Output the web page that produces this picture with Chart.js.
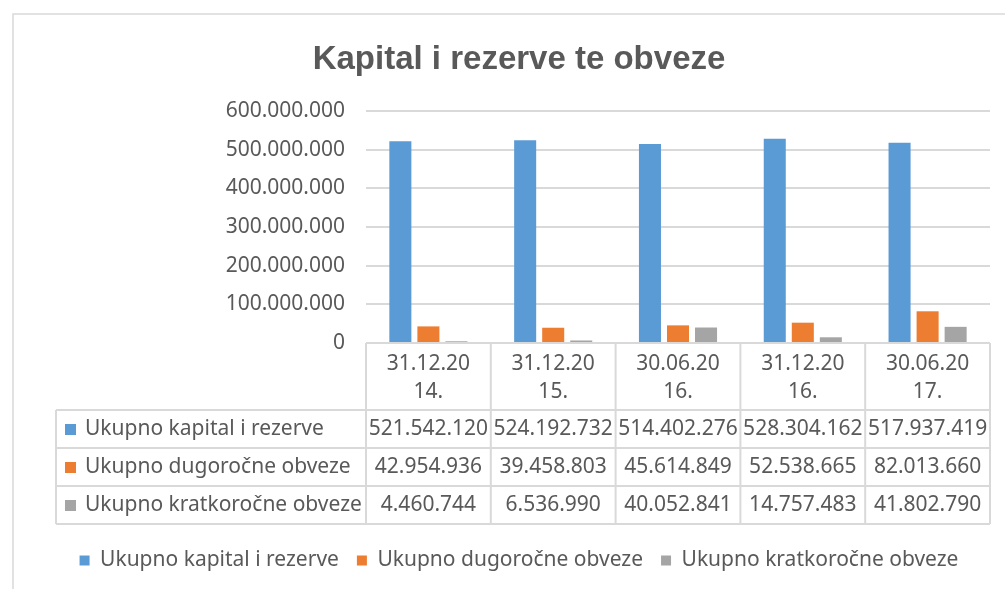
<!DOCTYPE html>
<html>
<head>
<meta charset="utf-8">
<title>Kapital i rezerve te obveze</title>
<script src="https://cdn.jsdelivr.net/npm/chart.js@4.4.1/dist/chart.umd.min.js"></script>
<style>
  html, body { margin: 0; padding: 0; background: #fff; }
  canvas { display: block; }
</style>
</head>
<body>
<canvas id="chart" width="1005" height="589"></canvas>
<script>
// Reporting dates (categories)
const categories = ['31.12.2014.', '31.12.2015.', '30.06.2016.', '31.12.2016.', '30.06.2017.'];

// Series values
const kapitalRezerve = [521542120, 524192732, 514402276, 528304162, 517937419];
const dugorocneObveze = [42954936, 39458803, 45614849, 52538665, 82013660];
const kratkorocneObveze = [4460744, 6536990, 40052841, 14757483, 41802790];

// Series names
const seriesNames = ['Ukupno kapital i rezerve', 'Ukupno dugoročne obveze', 'Ukupno kratkoročne obveze'];

// Y axis ticks
const yTicks = [0, 100000000, 200000000, 300000000, 400000000, 500000000, 600000000];

const COLORS = ['#5B9BD5', '#ED7D31', '#A5A5A5'];
const TEXT = '#595959';
const LINE = '#D9D9D9';
const FONT = '"Noto Sans", "Open Sans", sans-serif';

// 521542120 -> 521.542.120
const formatNumber = (n) => String(n).replace(/\B(?=(\d{3})+(?!\d))/g, '.');

// Split date label in two lines like the Excel header
const splitLabel = (s) => [s.slice(0, 8), s.slice(8)];

const allSeries = [kapitalRezerve, dugorocneObveze, kratkorocneObveze];

// Frame around the chart
const framePlugin = {
  id: 'frame',
  beforeDraw(chart) {
    const { ctx, width, height } = chart;
    ctx.save();
    ctx.fillStyle = '#fff';
    ctx.fillRect(0, 0, width, height);
    ctx.strokeStyle = LINE;
    ctx.lineWidth = 1.5;
    ctx.strokeRect(13, 14, width + 20, height + 20);
    ctx.restore();
  }
};

// Data table under the plot
const dataTablePlugin = {
  id: 'dataTable',
  afterDraw(chart) {
    const { ctx, chartArea } = chart;
    const x = chart.scales.x;
    const catW = (chartArea.right - chartArea.left) / categories.length;
    const top = chartArea.bottom;
    const headerH = 67;
    const rowH = 38;
    const tableLeft = 56;
    const rowsTop = top + headerH;
    const bottom = rowsTop + rowH * allSeries.length;

    ctx.save();
    ctx.strokeStyle = LINE;
    ctx.lineWidth = 2;
    ctx.beginPath();
    // header top line
    ctx.moveTo(chartArea.left, top);
    ctx.lineTo(chartArea.right, top);
    // row lines
    for (let r = 0; r <= allSeries.length; r++) {
      const y = rowsTop + r * rowH;
      ctx.moveTo(tableLeft, y);
      ctx.lineTo(chartArea.right, y);
    }
    // vertical lines
    for (let i = 0; i <= categories.length; i++) {
      const vx = chartArea.left + i * catW;
      ctx.moveTo(vx, top);
      ctx.lineTo(vx, bottom);
    }
    ctx.moveTo(tableLeft, rowsTop);
    ctx.lineTo(tableLeft, bottom);
    ctx.stroke();

    ctx.font = '21px ' + FONT;
    ctx.textBaseline = 'middle';
    allSeries.forEach((values, r) => {
      const cy = rowsTop + r * rowH + rowH / 2;
      // legend key
      ctx.fillStyle = COLORS[r];
      ctx.fillRect(65, cy - 5, 11, 11);
      ctx.fillStyle = TEXT;
      ctx.textAlign = 'left';
      ctx.fillText(seriesNames[r], 85, cy);
      // values
      ctx.textAlign = 'center';
      values.forEach((v, i) => {
        ctx.fillText(formatNumber(v), x.getPixelForValue(i), cy);
      });
    });
    ctx.restore();
  }
};

const datasets = allSeries.map((values, i) => ({
  label: seriesNames[i],
  data: values,
  backgroundColor: COLORS[i],
  borderWidth: 0,
  categoryPercentage: 0.674,
  barPercentage: 0.786
}));

new Chart(document.getElementById('chart'), {
  type: 'bar',
  data: {
    labels: categories.map(splitLabel),
    datasets
  },
  options: {
    responsive: false,
    animation: false,
    layout: { padding: { left: 48, right: 15, top: 0, bottom: 8 } },
    plugins: {
      title: {
        display: true,
        text: 'Kapital i rezerve te obveze',
        color: TEXT,
        font: { family: '"Liberation Sans", Arial, sans-serif', size: 33, weight: 'bold', lineHeight: 1 },
        padding: { top: 43, bottom: 35 }
      },
      legend: {
        position: 'bottom',
        labels: {
          boxWidth: 10,
          boxHeight: 10,
          padding: 18,
          color: TEXT,
          font: { family: FONT, size: 21 }
        }
      },
      tooltip: { enabled: false }
    },
    scales: {
      y: {
        min: 0,
        max: 600000000,
        afterBuildTicks: (axis) => { axis.ticks = yTicks.map(v => ({ value: v })); },
        afterFit: (axis) => { axis.width = 318; },
        border: { display: false },
        grid: { color: LINE, lineWidth: 2, drawTicks: false },
        ticks: {
          padding: 21,
          color: TEXT,
          font: { family: FONT, size: 21 },
          callback: (v) => formatNumber(v)
        }
      },
      x: {
        afterFit: (axis) => { axis.height = 189; },
        border: { display: false },
        grid: { display: false, drawTicks: false },
        ticks: {
          padding: 7,
          color: TEXT,
          maxRotation: 0,
          autoSkip: false,
          font: { family: FONT, size: 21, lineHeight: 1.333 }
        }
      }
    }
  },
  plugins: [framePlugin, dataTablePlugin]
});
</script>
</body>
</html>
